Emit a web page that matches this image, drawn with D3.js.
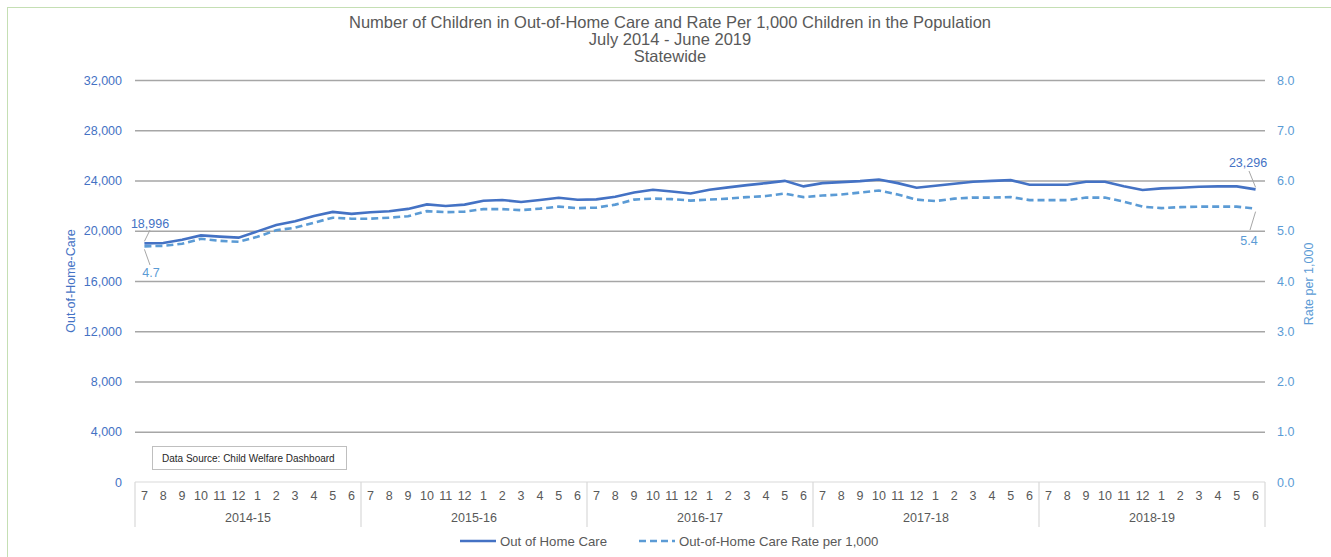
<!DOCTYPE html>
<html>
<head>
<meta charset="utf-8">
<script src="https://cdn.jsdelivr.net/npm/d3@7"></script>
<style>
  body { margin: 0; background: #fff; }
  svg { display: block; font-family: "Liberation Sans", Arial, sans-serif; }
</style>
</head>
<body>
<svg id="chart" width="1331" height="557"></svg>
<script>
// Fiscal years and the months shown under each one
var years = ["2014-15", "2015-16", "2016-17", "2017-18", "2018-19"];
var months = ["7", "8", "9", "10", "11", "12", "1", "2", "3", "4", "5", "6"];

// Children in out-of-home care, July 2014 - June 2019
var careValues = [
	18996, 19030, 19290, 19630, 19530, 19450, 19950, 20450, 20760, 21180, 21500, 21340,
	21470, 21550, 21740, 22100, 21970, 22080, 22390, 22450, 22290, 22450, 22630, 22470,
	22500, 22710, 23050, 23260, 23130, 22970, 23260, 23450, 23630, 23790, 23970, 23530,
	23790, 23870, 23950, 24080, 23790, 23420, 23580, 23740, 23900, 23970, 24030, 23660,
	23660, 23660, 23900, 23900, 23550, 23240, 23370, 23420, 23500, 23530, 23530, 23296
];

// Rate per 1,000 children in the population
var rateValues = [
	4.69, 4.70, 4.74, 4.84, 4.80, 4.78, 4.88, 5.01, 5.06, 5.16, 5.26, 5.24,
	5.24, 5.26, 5.29, 5.39, 5.37, 5.38, 5.43, 5.43, 5.41, 5.44, 5.48, 5.45,
	5.46, 5.52, 5.62, 5.64, 5.63, 5.60, 5.62, 5.64, 5.67, 5.69, 5.74, 5.67,
	5.70, 5.72, 5.76, 5.80, 5.72, 5.62, 5.59, 5.64, 5.66, 5.66, 5.67, 5.61,
	5.61, 5.61, 5.66, 5.66, 5.58, 5.48, 5.45, 5.47, 5.48, 5.48, 5.48, 5.44
];

var leftTicks = [0, 4000, 8000, 12000, 16000, 20000, 24000, 28000, 32000];
var rightTicks = [0, 1, 2, 3, 4, 5, 6, 7, 8];

var titleLines = [
	"Number of Children in Out-of-Home  Care and Rate Per 1,000 Children in the Population",
	"July 2014 - June 2019",
	"Statewide"
];

var careColor = "#4472c4";
var rateColor = "#5b9bd5";
var textColor = "#595959";

var svg = d3.select("#chart");

// Outer chart frame
svg.append("rect")
	.attr("x", 7.5).attr("y", 7.5)
	.attr("width", 1340).attr("height", 560)
	.attr("fill", "none")
	.attr("stroke", "#c5dfb4");

var plotLeft = 135, plotRight = 1265, plotTop = 80, plotBottom = 482;

var idx = d3.range(careValues.length);
var x = d3.scaleBand().domain(idx).range([plotLeft, plotRight]);
var yLeft = d3.scaleLinear().domain([0, 32000]).range([plotBottom, plotTop]);
var yRight = d3.scaleLinear().domain([0, 8]).range([plotBottom, plotTop]);
var cx = function(i) { return x(i) + x.bandwidth() / 2; };

// Title
svg.append("g").selectAll("text")
	.data(titleLines)
	.enter().append("text")
	.attr("x", 670)
	.attr("y", function(d, i) { return 28 + i * 17; })
	.attr("text-anchor", "middle")
	.attr("fill", textColor)
	.style("font-size", "16.5px")
	.text(function(d) { return d; });

// Gridlines
svg.append("g")
	.attr("transform", "translate(" + plotLeft + ",0)")
	.call(d3.axisLeft(yLeft).tickValues(leftTicks.slice(1)).tickSize(-(plotRight - plotLeft)).tickFormat(""))
	.call(function(g) {
		g.select(".domain").remove();
		g.selectAll("line").attr("stroke", "#a6a6a6").attr("stroke-width", 1.5);
	});

// Left axis labels
svg.append("g")
	.attr("transform", "translate(" + (plotLeft - 10) + ",0)")
	.call(d3.axisLeft(yLeft).tickValues(leftTicks).tickSize(0).tickFormat(d3.format(",")))
	.call(function(g) {
		g.select(".domain").remove();
		g.selectAll("text").attr("fill", careColor).style("font-size", "12.5px")
			.style("font-family", "'Liberation Sans', sans-serif");
	});

// Right axis labels
svg.append("g")
	.attr("transform", "translate(" + (plotRight + 9) + ",0)")
	.call(d3.axisRight(yRight).tickValues(rightTicks).tickSize(0).tickFormat(d3.format(".1f")))
	.call(function(g) {
		g.select(".domain").remove();
		g.selectAll("text").attr("fill", rateColor).style("font-size", "12.5px")
			.style("font-family", "'Liberation Sans', sans-serif");
	});

// Axis titles
svg.append("text")
	.attr("transform", "translate(75," + ((plotTop + plotBottom) / 2) + ") rotate(-90)")
	.attr("text-anchor", "middle")
	.attr("fill", careColor)
	.style("font-size", "12.5px")
	.text("Out-of-Home-Care");

svg.append("text")
	.attr("transform", "translate(1313," + ((plotTop + plotBottom) / 2 + 3) + ") rotate(-90)")
	.attr("text-anchor", "middle")
	.attr("fill", rateColor)
	.style("font-size", "12.5px")
	.text("Rate per 1,000");

// Category axis box
var axisG = svg.append("g");
axisG.append("line")
	.attr("x1", plotLeft).attr("x2", plotRight)
	.attr("y1", plotBottom).attr("y2", plotBottom)
	.attr("stroke", "#d9d9d9").attr("stroke-width", 1.2);

var yearStart = d3.range(years.length + 1).map(function(k) {
	return k < years.length ? x(k * 12) : plotRight;
});
axisG.selectAll(".divider")
	.data(yearStart)
	.enter().append("line")
	.attr("class", "divider")
	.attr("x1", function(d) { return d; }).attr("x2", function(d) { return d; })
	.attr("y1", plotBottom).attr("y2", 527)
	.attr("stroke", "#d9d9d9").attr("stroke-width", 1.2);

axisG.selectAll(".month")
	.data(idx)
	.enter().append("text")
	.attr("class", "month")
	.attr("x", cx)
	.attr("y", 500)
	.attr("text-anchor", "middle")
	.attr("fill", textColor)
	.style("font-size", "12.5px")
	.text(function(i) { return months[i % 12]; });

axisG.selectAll(".year")
	.data(years)
	.enter().append("text")
	.attr("class", "year")
	.attr("x", function(d, k) { return (x(k * 12) + x(k * 12 + 11) + x.bandwidth()) / 2; })
	.attr("y", 522)
	.attr("text-anchor", "middle")
	.attr("fill", textColor)
	.style("font-size", "12.5px")
	.text(function(d) { return d; });

// Series lines
var careLine = d3.line()
	.x(function(d, i) { return cx(i); })
	.y(function(d) { return yLeft(d); });
var rateLine = d3.line()
	.x(function(d, i) { return cx(i); })
	.y(function(d) { return yRight(d); });

svg.append("path")
	.datum(rateValues)
	.attr("d", rateLine)
	.attr("fill", "none")
	.attr("stroke", rateColor)
	.attr("stroke-width", 2.6)
	.attr("stroke-dasharray", "7,4");

svg.append("path")
	.datum(careValues)
	.attr("d", careLine)
	.attr("fill", "none")
	.attr("stroke", careColor)
	.attr("stroke-width", 2.6);

// Data labels with leader lines
var last = careValues.length - 1;
var labels = [
	{ text: d3.format(",")(careValues[0]), px: cx(0), py: yLeft(careValues[0]) - 2, lx: 150, ly: 230, tx: 150, ty: 228, color: careColor },
	{ text: d3.format(".1f")(rateValues[0]), px: cx(0), py: yRight(rateValues[0]) + 3, lx: 150, ly: 265, tx: 151, ty: 277, color: rateColor },
	{ text: d3.format(",")(careValues[last]), px: cx(last), py: yLeft(careValues[last]) - 2, lx: 1249, ly: 171, tx: 1248, ty: 167, color: careColor },
	{ text: d3.format(".1f")(rateValues[last]), px: cx(last), py: yRight(rateValues[last]) + 3, lx: 1250, ly: 230, tx: 1249, ty: 245, color: rateColor }
];

var lab = svg.append("g").selectAll("g").data(labels).enter().append("g");
lab.append("line")
	.attr("x1", function(d) { return d.px; }).attr("y1", function(d) { return d.py; })
	.attr("x2", function(d) { return d.lx; }).attr("y2", function(d) { return d.ly; })
	.attr("stroke", "#a6a6a6").attr("stroke-width", 1);
lab.append("text")
	.attr("x", function(d) { return d.tx; })
	.attr("y", function(d) { return d.ty; })
	.attr("text-anchor", "middle")
	.attr("fill", function(d) { return d.color; })
	.style("font-size", "12.5px")
	.text(function(d) { return d.text; });

// Data source note
svg.append("rect")
	.attr("x", 152.5).attr("y", 446.5)
	.attr("width", 194).attr("height", 23)
	.attr("fill", "#fff")
	.attr("stroke", "#bfbfbf");
svg.append("text")
	.attr("x", 162).attr("y", 461.5)
	.attr("fill", "#262626")
	.style("font-size", "10px")
	.text("Data Source: Child Welfare Dashboard");

// Legend
var legend = svg.append("g");
var legendItems = [
	{ name: "Out of Home Care", x: 460, color: careColor, dash: null },
	{ name: "Out-of-Home Care Rate per 1,000", x: 639, color: rateColor, dash: "7,4" }
];
var li = legend.selectAll("g").data(legendItems).enter().append("g");
li.append("line")
	.attr("x1", function(d) { return d.x; }).attr("x2", function(d) { return d.x + 36; })
	.attr("y1", 541).attr("y2", 541)
	.attr("stroke", function(d) { return d.color; })
	.attr("stroke-width", 2.6)
	.attr("stroke-dasharray", function(d) { return d.dash; });
li.append("text")
	.attr("x", function(d) { return d.x + 40; })
	.attr("y", 545.5)
	.attr("fill", textColor)
	.style("font-size", "13.2px")
	.text(function(d) { return d.name; });
</script>
</body>
</html>
